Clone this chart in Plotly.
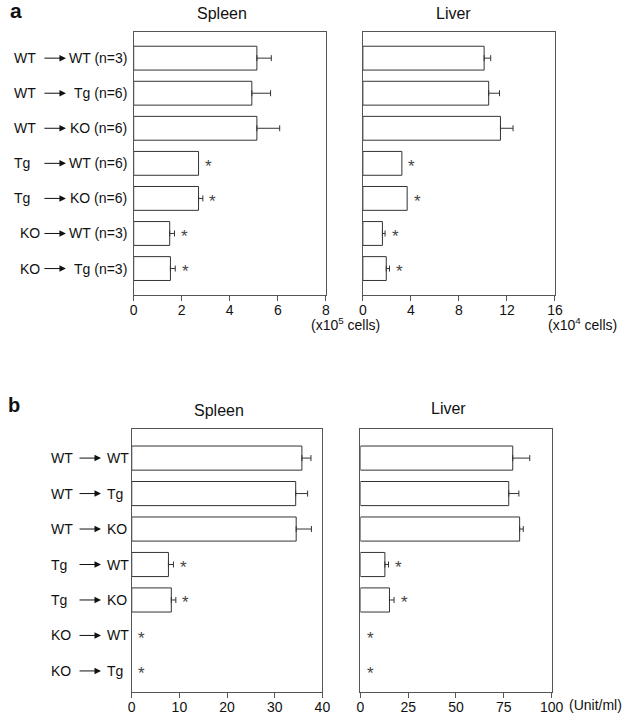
import plotly.graph_objects as go

# ---------------- data ----------------
donors = ["WT", "WT", "WT", "Tg", "Tg", "KO", "KO"]
recipients = ["WT", "Tg", "KO", "WT", "KO", "WT", "Tg"]
n_labels_a = ["(n=3)", "(n=6)", "(n=6)", "(n=6)", "(n=6)", "(n=3)", "(n=3)"]

spleen_a = [5.13, 4.92, 5.13, 2.70, 2.70, 1.50, 1.53]
spleen_a_err = [0.60, 0.78, 0.95, 0.0, 0.18, 0.20, 0.20]
liver_a = [10.1, 10.48, 11.46, 3.25, 3.69, 1.63, 1.95]
liver_a_err = [0.55, 0.90, 1.05, 0.0, 0.0, 0.22, 0.27]

spleen_b = [35.7, 34.4, 34.5, 7.7, 8.3, 0.0, 0.0]
spleen_b_err = [1.9, 2.5, 3.2, 1.05, 0.95, 0.0, 0.0]
liver_b = [79.7, 77.6, 83.3, 12.8, 15.2, 0.0, 0.0]
liver_b_err = [8.9, 5.3, 1.9, 1.9, 2.4, 0.0, 0.0]

significant = [False, False, False, True, True, True, True]

spleen_a_ticks = [0, 2, 4, 6, 8]
liver_a_ticks = [0, 4, 8, 12, 16]
spleen_b_ticks = [0, 10, 20, 30, 40]
liver_b_ticks = [0, 25, 50, 75, 100]

# ---------------- styling / layout ----------------
W, H = 644, 720
FONT = "Liberation Sans, Arial, Helvetica, sans-serif"
TXT = "#111111"
FRAME = "#555555"
BAR_LINE = "#333333"

def px(x):
    return x / W

def py(y):
    return 1 - y / H

cats = [f"{d}>{r}" for d, r in zip(donors, recipients)]

panels = [
    dict(ax="", values=spleen_a, errs=spleen_a_err, ticks=spleen_a_ticks,
         xdom=(133, 330), ydom=(31.5, 294.5), yrange=[6.74, -0.76]),
    dict(ax="2", values=liver_a, errs=liver_a_err, ticks=liver_a_ticks,
         xdom=(368, 565), ydom=(31.5, 294.5), yrange=[6.74, -0.76]),
    dict(ax="3", values=spleen_b, errs=spleen_b_err, ticks=spleen_b_ticks,
         xdom=(131, 326.5), ydom=(429, 691.5), yrange=[6.58, -0.82]),
    dict(ax="4", values=liver_b, errs=liver_b_err, ticks=liver_b_ticks,
         xdom=(365.5, 561.5), ydom=(429, 691.5), yrange=[6.58, -0.82]),
]

fig = go.Figure()
layout = dict(
    width=W, height=H,
    margin=dict(l=0, r=0, t=0, b=0),
    paper_bgcolor="white", plot_bgcolor="white",
    showlegend=False,
    font=dict(family=FONT, size=14, color=TXT),
)
annotations = []

for p in panels:
    a = p["ax"]
    xname, yname = "x" + a, "y" + a
    # bars (only non-zero bars are drawn; zero rows keep their slot on the axis)
    rows = [i for i, v in enumerate(p["values"]) if v > 0]
    fig.add_trace(go.Bar(
        x=[p["values"][i] for i in rows], y=[cats[i] for i in rows],
        orientation="h", xaxis=xname, yaxis=yname, width=0.68,
        marker=dict(color="white", line=dict(color=BAR_LINE, width=1)),
        hoverinfo="skip",
    ))
    # plus-only error bars
    erows = [i for i in rows if p["errs"][i] > 0]
    fig.add_trace(go.Scatter(
        x=[p["values"][i] for i in erows], y=[cats[i] for i in erows],
        mode="markers", marker=dict(size=1, color=NONE if False else "rgba(0,0,0,0)"),
        xaxis=xname, yaxis=yname,
        error_x=dict(type="data", symmetric=False,
                     array=[p["errs"][i] for i in erows],
                     arrayminus=[0] * len(erows),
                     color=BAR_LINE, thickness=1, width=3),
        hoverinfo="skip",
    ))
    layout["xaxis" + a] = dict(
        domain=[px(p["xdom"][0]), px(p["xdom"][1])],
        anchor=yname, range=[0, p["ticks"][-1]],
        tickmode="array", tickvals=p["ticks"], ticktext=[str(t) for t in p["ticks"]],
        ticks="outside", ticklen=5, tickwidth=1, tickcolor=FRAME,
        ticklabelstandoff=-2,
        showline=True, mirror=True, linecolor=FRAME, linewidth=1,
        showgrid=False, zeroline=False, fixedrange=True,
        tickfont=dict(size=14, color=TXT, family=FONT),
    )
    layout["yaxis" + a] = dict(
        domain=[py(p["ydom"][1]), py(p["ydom"][0])],
        anchor=xname, type="category", categoryorder="array", categoryarray=cats,
        range=p["yrange"],
        showticklabels=False, ticks="",
        showline=True, mirror=True, linecolor=FRAME, linewidth=1,
        showgrid=False, zeroline=False, fixedrange=True,
    )
    # significance stars
    for c, v, e, s in zip(cats, p["values"], p["errs"], significant):
        if s:
            annotations.append(dict(
                x=v + e, y=c, xref=xname, yref=yname, text="*",
                showarrow=False, xanchor="center", xshift=10, yshift=-3,
                font=dict(size=17, color="#444444", family=FONT)))

# row labels panel a
for c, d, r, n in zip(cats, donors, recipients, n_labels_a):
    annotations.append(dict(x=px(8), y=c, xref="paper", yref="y", text=d,
                            xanchor="left", showarrow=False,
                            xshift=6 if d == "KO" else 0,
                            font=dict(size=14, color=TXT, family=FONT)))
    annotations.append(dict(x=px(63.5), y=c, xref="paper", yref="y", text=" ",
                            showarrow=True, ax=-25, ay=0, axref="pixel", ayref="pixel",
                            arrowhead=2, arrowsize=1.3, arrowwidth=1, arrowcolor=TXT,
                            standoff=0))
    annotations.append(dict(x=px(128), y=c, xref="paper", yref="y",
                            text=f"{r} {n}", xanchor="right", showarrow=False,
                            font=dict(size=14, color=TXT, family=FONT)))

# row labels panel b
for c, d, r in zip(cats, donors, recipients):
    annotations.append(dict(x=px(46), y=c, xref="paper", yref="y3", text=d,
                            xanchor="left", showarrow=False,
                            font=dict(size=14, color=TXT, family=FONT)))
    annotations.append(dict(x=px(99.5), y=c, xref="paper", yref="y3", text=" ",
                            showarrow=True, ax=-25, ay=0, axref="pixel", ayref="pixel",
                            arrowhead=2, arrowsize=1.3, arrowwidth=1, arrowcolor=TXT,
                            standoff=0))
    annotations.append(dict(x=px(104), y=c, xref="paper", yref="y3", text=r,
                            xanchor="left", showarrow=False,
                            font=dict(size=14, color=TXT, family=FONT)))

def txt(x, y, t, size=16, bold=False, anchor="center"):
    annotations.append(dict(x=px(x), y=py(y), xref="paper", yref="paper",
                            text=f"<b>{t}</b>" if bold else t, showarrow=False,
                            xanchor=anchor, yanchor="middle",
                            font=dict(size=size, color=TXT, family=FONT)))

txt(4, 11, "a", size=21, bold=True, anchor="left")
txt(2, 405, "b", size=20, bold=True, anchor="left")
txt(224, 13, "Spleen")
txt(461, 13, "Liver")
txt(220, 410, "Spleen")
txt(456, 408, "Liver")
txt(313, 324, "(x10<sup>5</sup> cells)", size=14, anchor="left")
txt(556, 324, "(x10<sup>4</sup> cells)", size=14, anchor="left")
txt(577, 705, "(Unit/ml)", size=14, anchor="left")

layout["annotations"] = annotations
fig.update_layout(**layout)
fig.write_html(
    "out.html",
    config={"displayModeBar": False},
    post_script="document.body.style.margin='0';document.body.style.overflow='hidden';",
)
